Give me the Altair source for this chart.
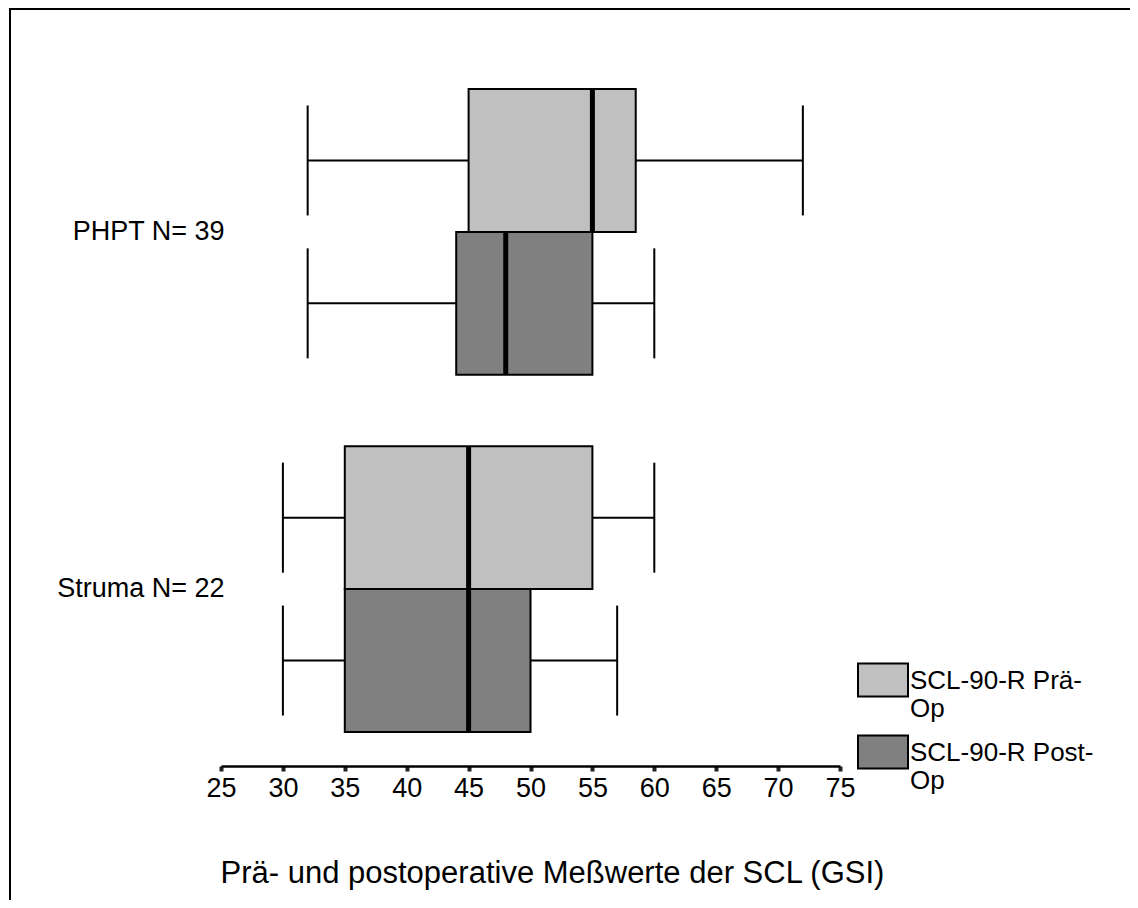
import altair as alt
import pandas as pd

groups = ["PHPT N= 39", "PHPT N= 39", "Struma N= 22", "Struma N= 22"]
phases = ["SCL-90-R Prä-Op", "SCL-90-R Post-Op", "SCL-90-R Prä-Op", "SCL-90-R Post-Op"]
whisker_low = [32, 32, 30, 30]
q1 = [45, 44, 35, 35]
median = [55, 48, 45, 45]
q3 = [58.5, 55, 55, 50]
whisker_high = [72, 60, 60, 57]
axis_ticks = [25, 30, 35, 40, 45, 50, 55, 60, 65, 70, 75]
group_order = ["PHPT N= 39", "Struma N= 22"]
phase_order = ["SCL-90-R Prä-Op", "SCL-90-R Post-Op"]
phase_colors = ["#c0c0c0", "#808080"]
x_title = "Prä- und postoperative Meßwerte der SCL (GSI)"

df = pd.DataFrame({
    "group": groups, "phase": phases, "lo": whisker_low, "q1": q1,
    "med": median, "q3": q3, "hi": whisker_high,
})

FONT = "Liberation Sans"

x_scale = alt.Scale(domain=[25, 75], nice=False, zero=False)
x_axis = alt.Axis(
    values=axis_ticks, title=x_title, titleFontSize=31, titleFontWeight="normal",
    titleColor="black", titleFont=FONT, titleX=-1, titleY=116, titleAlign="left",
    titleAnchor="start", titleBaseline="alphabetic",
    labelFontSize=27, labelFont=FONT, labelColor="black", labelPadding=4,
    labelFlush=False, labelOverlap=False,
    tickSize=5, tickWidth=4, tickColor="#222222",
    domainColor="black", domainWidth=2.5, offset=34, grid=False,
)
y_scale = alt.Scale(paddingInner=0.2, paddingOuter=0)
y_axis = alt.Axis(title=None, domain=False, ticks=False, labelFontSize=27, labelFont=FONT,
                  labelColor="black", labelPadding=-3, labelAlign="right",
                  labelBaseline="middle", labelLimit=0)
y_enc = alt.Y("group:N", sort=group_order, scale=y_scale, axis=y_axis)
yoff_enc = alt.YOffset("phase:N", sort=phase_order,
                       scale=alt.Scale(paddingInner=0, paddingOuter=0))

base = alt.Chart(df)

whisker = base.mark_rule(color="black", strokeWidth=2).encode(
    x=alt.X("lo:Q", scale=x_scale, axis=x_axis), x2="hi:Q", y=y_enc, yOffset=yoff_enc)
cap_lo = base.mark_tick(color="black", thickness=2, size=110, opacity=1).encode(
    x=alt.X("lo:Q", scale=x_scale, axis=x_axis), y=y_enc, yOffset=yoff_enc)
cap_hi = base.mark_tick(color="black", thickness=2, size=110, opacity=1).encode(
    x=alt.X("hi:Q", scale=x_scale, axis=x_axis), y=y_enc, yOffset=yoff_enc)
box = base.mark_bar(stroke="black", strokeWidth=2, opacity=1).encode(
    x=alt.X("q1:Q", scale=x_scale, axis=x_axis), x2="q3:Q", y=y_enc, yOffset=yoff_enc,
    color=alt.Color(
        "phase:N", sort=phase_order,
        scale=alt.Scale(domain=phase_order, range=phase_colors),
        legend=alt.Legend(
            title=None, orient="none", legendX=636, legendY=574, padding=0,
            symbolType="M-1,-1.02H1V0.3H-1Z", symbolSize=2500,
            symbolStrokeColor="black", symbolStrokeWidth=2, symbolOpacity=1,
            labelFont=FONT, labelFontSize=26, labelColor="black", labelLimit=0,
            labelBaseline="alphabetic", labelOffset=1, rowPadding=9,
            labelExpr="[slice(datum.label, 0, -2), 'Op']",
        ),
    ),
)
med_tick = base.mark_tick(color="black", thickness=5, size=143, opacity=1).encode(
    x=alt.X("med:Q", scale=x_scale, axis=x_axis), y=y_enc, yOffset=yoff_enc)

frame = alt.Chart(pd.DataFrame({"f": [0]})).mark_rect(
    fill=None, stroke="black", strokeWidth=2
).encode(x=alt.value(-211), x2=alt.value(960), y=alt.value(-80), y2=alt.value(860))

chart = alt.layer(frame, whisker, cap_lo, cap_hi, box, med_tick).properties(
    width=619, height=643,
    autosize=alt.AutoSizeParams(type="none"),
    padding={"left": 213, "top": 81, "right": 290, "bottom": 168},
    background="white",
).configure(font=FONT, view=alt.ViewConfig(stroke=None))

chart.save("out.html", embed_options={"renderer": "svg", "actions": False})
